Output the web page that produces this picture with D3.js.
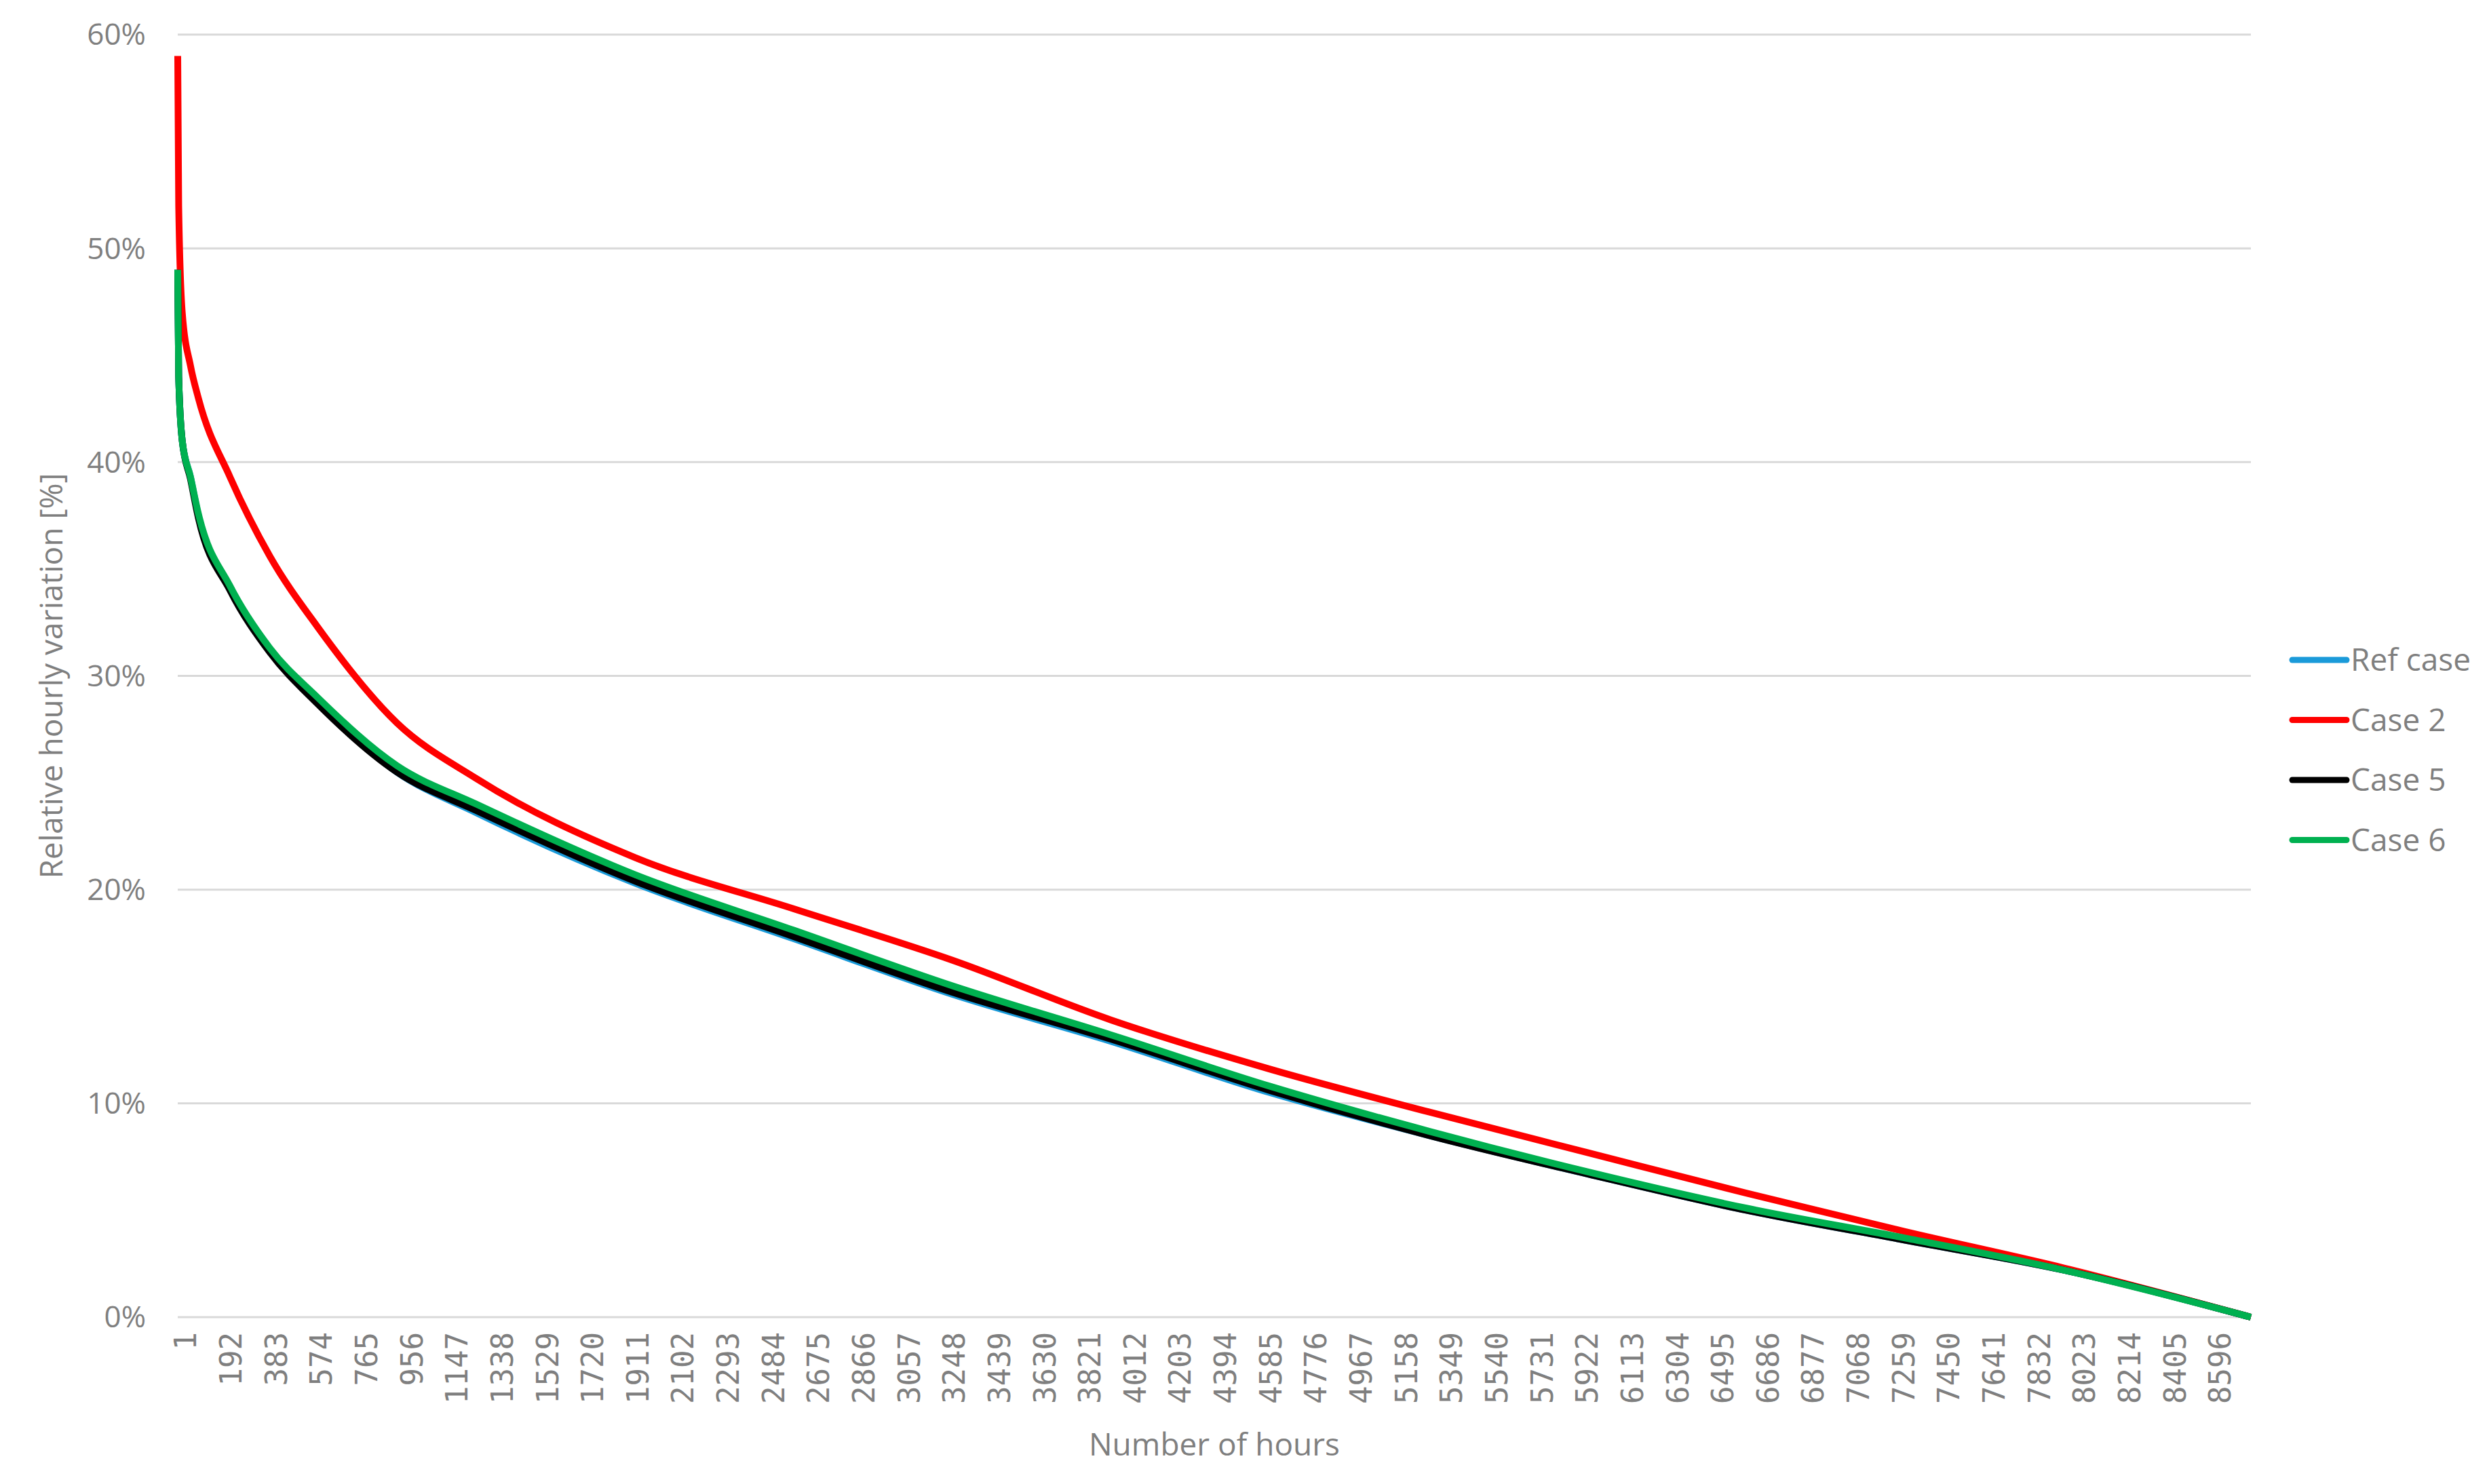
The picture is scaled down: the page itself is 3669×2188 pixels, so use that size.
<!DOCTYPE html>
<html><head><meta charset="utf-8">
<script src="https://cdn.jsdelivr.net/npm/d3@7"></script>
<style>body{margin:0;background:#fff}</style></head>
<body><svg id="c" width="3669" height="2188"></svg>
<script>
const hours = [1, 5, 20, 55, 88, 222, 390, 591, 927, 1262, 1933, 2604, 3274, 3945, 4616, 5287, 5957, 6628, 7299, 7970, 8760];
const refCase = [49, 44, 41, 39.3, 37.5, 34.1, 31.2, 28.8, 25.5, 23.6, 20.3, 17.7, 15.1, 12.9, 10.5, 8.5, 6.7, 5.0, 3.6, 2.2, 0];
const case2   = [59, 52, 47, 44.5, 43, 39.3, 35.6, 32.3, 27.8, 25.2, 21.5, 19.1, 16.7, 13.9, 11.6, 9.6, 7.7, 5.8, 4.0, 2.3, 0];
const case5   = [49, 44, 41, 39.2, 37.4, 34.0, 31.1, 28.7, 25.5, 23.7, 20.4, 17.8, 15.2, 13.0, 10.6, 8.5, 6.7, 5.0, 3.6, 2.2, 0];
const case6   = [49, 44, 41, 39.3, 37.6, 34.2, 31.3, 29.0, 25.8, 24.0, 20.7, 18.1, 15.5, 13.2, 10.8, 8.7, 6.8, 5.1, 3.7, 2.2, 0];
const seriesNames = ["Ref case", "Case 2", "Case 5", "Case 6"];
const seriesColors = ["#1a9ad9", "#ff0000", "#000000", "#00b050"];
const seriesData = [refCase, case2, case5, case6];
const yTicks = [0, 10, 20, 30, 40, 50, 60];
const xTickValues = d3.range(1, 8760, 191);

const svg = d3.select("#c");
const L = 262, R = 3318, T = 51, B = 1942;
const x = d3.scaleLinear().domain([1, 8760]).range([L, R]);
const y = d3.scaleLinear().domain([0, 60]).range([B, T]);
const gray = "#7f7f7f";

svg.append("g").selectAll("line").data(yTicks).join("line")
  .attr("x1", L).attr("x2", R).attr("y1", d => y(d)).attr("y2", d => y(d))
  .attr("stroke", "#d9d9d9").attr("stroke-width", 3);

svg.append("g").selectAll("text").data(yTicks).join("text")
  .attr("x", 215).attr("y", d => y(d)).attr("dy", "0.35em").attr("text-anchor", "end")
  .attr("font-family", "Open Sans, sans-serif").attr("font-size", 44).attr("fill", gray)
  .text(d => d + "%");

svg.append("g").selectAll("text").data(xTickValues).join("text")
  .attr("transform", d => `translate(${x(d) + 12},${B + 22}) rotate(-90)`)
  .attr("text-anchor", "end").attr("dy", "0.35em")
  .attr("font-family", "DejaVu Sans Mono, monospace").attr("font-size", 44).attr("fill", gray)
  .text(d => d);

svg.append("text").attr("x", 1790).attr("y", 2146).attr("text-anchor", "middle")
  .attr("font-family", "Open Sans, sans-serif").attr("font-size", 46).attr("fill", gray)
  .text("Number of hours");
svg.append("text").attr("transform", `translate(92,${(T + B) / 2}) rotate(-90)`).attr("text-anchor", "middle")
  .attr("font-family", "Open Sans, sans-serif").attr("font-size", 46).attr("fill", gray)
  .text("Relative hourly variation [%]");

const line = d3.line().x((d, i) => x(hours[i])).y(d => y(d)).curve(d3.curveMonotoneX);
svg.append("g").selectAll("path").data(seriesData).join("path")
  .attr("d", d => line(d)).attr("fill", "none")
  .attr("stroke", (d, i) => seriesColors[i]).attr("stroke-width", 10).attr("stroke-linejoin", "round");

const lg = svg.append("g").selectAll("g").data(seriesNames).join("g")
  .attr("transform", (d, i) => `translate(3379,${973 + i * 88.5})`);
lg.append("line").attr("x1", 0).attr("x2", 80).attr("stroke", (d, i) => seriesColors[i])
  .attr("stroke-width", 9).attr("stroke-linecap", "round");
lg.append("text").attr("x", 86).attr("dy", "0.35em")
  .attr("font-family", "Open Sans, sans-serif").attr("font-size", 46).attr("fill", gray).text(d => d);
</script></body></html>
